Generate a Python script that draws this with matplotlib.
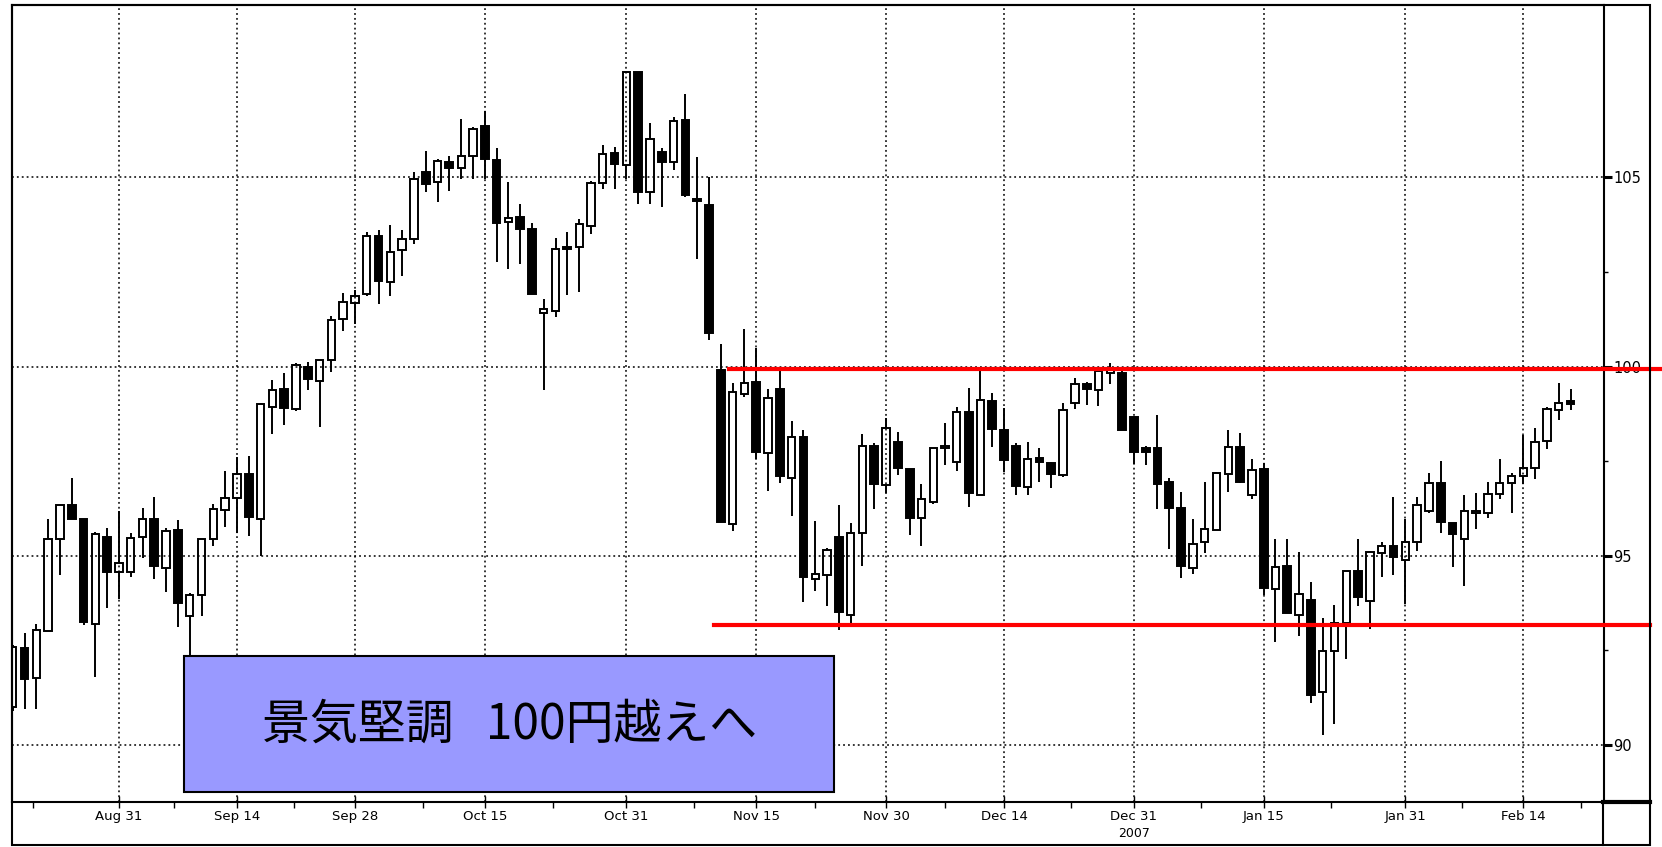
import matplotlib
matplotlib.use("Agg")
import matplotlib.pyplot as plt
from matplotlib.patches import Rectangle
from matplotlib.lines import Line2D
import numpy as np

plt.rcParams['font.family'] = ['Liberation Sans Narrow', 'DejaVu Sans']

# daily candles (USD/JPY, Aug 2006 - Feb 2007)
opens = [91.0, 92.55, 91.77, 93.0, 95.43, 96.33, 95.98, 93.2, 95.5, 94.56,
         94.56, 95.49, 95.98, 94.67, 95.67, 93.4, 93.96, 95.43, 96.22, 96.53,
         97.15, 95.97, 98.94, 99.41, 98.88, 100.0, 99.62, 100.17, 101.27, 101.69,
         101.93, 103.45, 102.23, 103.07, 103.38, 105.14, 104.87, 105.41, 105.26, 105.58,
         106.36, 105.45, 103.82, 103.96, 103.63, 101.41, 101.46, 103.15, 103.16, 103.72,
         104.86, 105.65, 105.32, 107.79, 104.62, 105.67, 105.41, 106.51, 104.44, 104.28,
         99.91, 95.83, 99.27, 99.6, 97.71, 99.42, 97.05, 98.15, 94.38, 94.5,
         95.49, 93.44, 95.6, 97.9, 96.86, 98.02, 97.3, 95.99, 96.43, 97.84,
         97.47, 98.81, 96.61, 99.1, 98.33, 97.9, 96.83, 97.59, 97.44, 97.14,
         99.03, 99.55, 99.38, 99.82, 99.84, 98.68, 97.84, 97.84, 96.94, 96.27,
         94.67, 95.37, 95.67, 97.16, 97.88, 96.61, 97.29, 94.13, 94.72, 93.44,
         93.82, 91.4, 92.47, 93.23, 94.61, 93.8, 95.07, 95.25, 94.9, 95.37,
         96.18, 96.93, 95.86, 95.44, 96.14, 96.14, 96.64, 96.93, 97.12, 97.32,
         98.03, 98.86, 99.08]
highs = [92.65, 92.95, 93.2, 95.98, 96.34, 97.05, 95.98, 95.62, 95.74, 96.17,
         95.6, 96.25, 96.54, 95.74, 95.94, 94.02, 95.45, 96.36, 97.24, 97.6,
         97.65, 99.05, 99.65, 99.82, 100.1, 100.12, 100.17, 101.34, 101.95, 102.03,
         103.55, 103.6, 103.75, 103.6, 105.15, 105.7, 105.5, 105.58, 106.54, 106.34,
         106.77, 105.77, 104.87, 104.3, 103.8, 101.79, 103.4, 103.57, 103.9, 104.9,
         105.87, 105.8, 107.79, 107.79, 106.45, 105.79, 106.6, 107.2, 105.55, 105.0,
         100.6, 99.56, 101.0, 100.5, 99.4, 99.9, 98.55, 98.33, 95.92, 95.2,
         96.35, 95.86, 98.22, 97.98, 98.64, 98.28, 97.3, 96.89, 97.84, 98.52,
         98.94, 99.43, 99.91, 99.3, 98.9, 97.97, 98.01, 97.84, 97.47, 99.03,
         99.69, 99.6, 100.0, 100.1, 99.9, 98.68, 97.9, 98.73, 97.05, 96.68,
         95.98, 96.94, 97.22, 98.33, 98.25, 97.57, 97.44, 95.44, 95.44, 95.09,
         94.3, 93.35, 93.7, 94.61, 95.44, 95.13, 95.37, 96.54, 95.98, 96.54,
         97.19, 97.5, 95.86, 96.6, 96.65, 96.95, 97.56, 97.18, 98.2, 98.38,
         98.93, 99.56, 99.4]
lows = [90.9, 90.95, 90.95, 93.0, 94.5, 95.98, 93.16, 91.8, 93.63, 93.86,
        94.45, 94.94, 94.38, 94.05, 93.11, 92.1, 93.4, 95.25, 95.77, 95.6,
        95.52, 95.0, 98.23, 98.46, 98.83, 99.37, 98.4, 99.85, 100.93, 101.12,
        101.86, 101.66, 101.86, 102.4, 103.25, 104.62, 104.34, 104.65, 104.95, 104.95,
        104.95, 102.76, 102.59, 102.7, 101.93, 99.39, 101.3, 101.88, 101.96, 103.5,
        104.7, 104.7, 104.95, 104.3, 104.3, 104.21, 105.2, 104.48, 102.85, 100.7,
        95.88, 95.65, 99.2, 97.55, 96.7, 96.93, 96.05, 93.77, 94.06, 93.66,
        93.05, 93.22, 94.72, 96.23, 96.67, 97.14, 95.55, 95.26, 96.37, 97.39,
        97.25, 96.3, 96.61, 97.87, 97.22, 96.61, 96.61, 96.96, 96.79, 97.09,
        98.88, 98.98, 98.95, 99.54, 98.33, 97.43, 97.4, 96.24, 95.17, 94.41,
        94.52, 95.07, 95.67, 96.68, 96.92, 96.5, 93.95, 92.72, 93.49, 92.89,
        91.1, 90.25, 90.54, 92.28, 93.67, 93.07, 94.43, 94.49, 93.73, 95.13,
        96.14, 95.6, 94.69, 94.21, 95.7, 96.0, 96.51, 96.14, 96.89, 97.04,
        97.82, 98.6, 98.86]
closes = [92.6, 91.75, 93.05, 95.43, 96.34, 95.98, 93.25, 95.58, 94.56, 94.8,
          95.47, 95.98, 94.74, 95.65, 93.75, 93.96, 95.43, 96.23, 96.53, 97.15,
          96.02, 99.0, 99.39, 98.9, 100.05, 99.68, 100.17, 101.22, 101.7, 101.86,
          103.45, 102.26, 103.02, 103.38, 104.95, 104.84, 105.43, 105.26, 105.56, 106.29,
          105.5, 103.8, 103.92, 103.63, 101.93, 101.53, 103.11, 103.1, 103.76, 104.86,
          105.62, 105.35, 107.79, 104.62, 106.02, 105.41, 106.48, 104.53, 104.37, 100.9,
          95.88, 99.34, 99.57, 97.74, 99.16, 97.1, 98.14, 94.45, 94.52, 95.16,
          93.5, 95.6, 97.89, 96.9, 98.39, 97.33, 95.99, 96.5, 97.84, 97.85,
          98.79, 96.67, 99.12, 98.35, 97.52, 96.85, 97.57, 97.49, 97.16, 98.84,
          99.55, 99.41, 99.89, 99.9, 98.33, 97.75, 97.75, 96.9, 96.27, 94.74,
          95.31, 95.72, 97.18, 97.88, 96.96, 97.27, 94.15, 94.7, 93.49, 93.99,
          91.32, 92.47, 93.23, 94.61, 93.9, 95.09, 95.25, 94.96, 95.37, 96.33,
          96.93, 95.89, 95.57, 96.18, 96.16, 96.64, 96.93, 97.12, 97.32, 98.0,
          98.88, 99.05, 99.0]

date_ticks = [9, 19, 29, 40, 52, 63, 74, 84, 95, 106, 118, 128]
date_labels = ["Aug 31", "Sep 14", "Sep 28", "Oct 15", "Oct 31", "Nov 15",
               "Nov 30", "Dec 14", "Dec 31", "Jan 15", "Jan 31", "Feb 14"]
minor_date_ticks = [1.7, 13.7, 23.8, 34.8, 45.8, 57.7, 68.0, 79.0, 89.7,
                    100.7, 111.7, 122.8, 132.9]
price_ticks = [90, 95, 100, 105]
minor_price_ticks = [92.5, 97.5, 102.5]

resistance = 99.93
support = 93.17
note = "景気堅調   100円越えへ"

fig = plt.figure(figsize=(16.62, 8.47), dpi=100)
ax = fig.add_axes([0.00704, 0.0531, 0.9578, 0.9406])

x = np.arange(len(opens))
o = np.array(opens)
h = np.array(highs)
l = np.array(lows)
c = np.array(closes)
up = c >= o
body_lo = np.minimum(o, c)
body_hi = np.maximum(o, c)
body_h = np.maximum(body_hi - body_lo, 0.05)

# wicks drawn outside the body so hollow candles stay empty
ax.vlines(x, body_hi, h, color='black', linewidth=1.4, zorder=2)
ax.vlines(x, l, body_lo, color='black', linewidth=1.4, zorder=2)
ax.bar(x[up], body_h[up], bottom=body_lo[up], width=0.62, facecolor='none',
       edgecolor='black', linewidth=1.4, zorder=3)
ax.bar(x[~up], body_h[~up], bottom=body_lo[~up], width=0.66, facecolor='black',
       edgecolor='black', linewidth=1.4, zorder=3)

ax.set_xlim(-0.085, 134.8)
ax.set_ylim(88.49, 109.55)

ax.set_xticks(date_ticks)
ax.set_xticklabels(date_labels)
ax.set_xticks(minor_date_ticks, minor=True)
ax.set_yticks(price_ticks)
ax.set_yticks(minor_price_ticks, minor=True)
ax.yaxis.tick_right()
ax.set_axisbelow(True)
ax.grid(which='major', color='black', linestyle=(0, (1.2, 2)), linewidth=1.1)

ax.tick_params(axis='x', which='major', direction='inout', length=8, width=1,
               pad=2, labelsize=9.5)
ax.tick_params(axis='x', which='minor', direction='out', length=4, width=1)
ax.tick_params(axis='y', which='major', direction='out', length=6, width=2.2,
               pad=1, labelsize=10.5, right=True, left=False)
ax.tick_params(axis='y', which='minor', direction='out', length=3, width=1,
               right=True, left=False)
for s in ax.spines.values():
    s.set_linewidth(1.5)

ax.text(95, -0.04, "2007", transform=ax.get_xaxis_transform(), ha='center',
        va='center', fontsize=9)

# support / resistance lines
ax.plot([60.7, 141], [resistance, resistance], color='red', linewidth=3,
        clip_on=False, zorder=5)
ax.plot([59.4, 138.75], [support, support], color='red', linewidth=3,
        clip_on=False, zorder=5)

# caption box
ax.add_patch(Rectangle((14.52, 88.76), 55.08, 3.59, facecolor='#9999ff',
                       edgecolor='black', linewidth=1.5, zorder=6))
ax.text(42.06, 90.52, note, ha='center', va='center', fontsize=34.5, zorder=7,
        family=['Noto Sans CJK JP', 'DejaVu Sans'])

# outer frame, date band and price panel
fig.add_artist(Rectangle((0.00692, 0.00236), 0.98586, 0.99174, fill=False,
                         edgecolor='black', linewidth=1.5,
                         transform=fig.transFigure))
fig.add_artist(Line2D([0.9648, 0.9648], [0.00236, 0.0531], color='black',
                      linewidth=1.5, transform=fig.transFigure))
fig.add_artist(Line2D([0.9648, 0.99278], [0.0531, 0.0531], color='black',
                      linewidth=3, transform=fig.transFigure))

fig.savefig("out.png", dpi=100)
